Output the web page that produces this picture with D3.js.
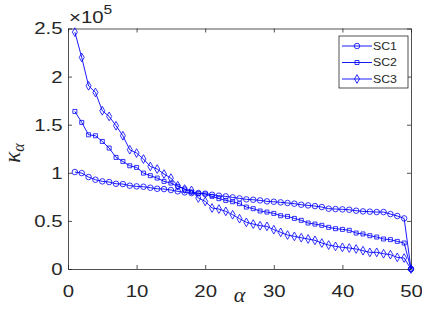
<!DOCTYPE html>
<html>
<head>
<meta charset="utf-8">
<script src="https://cdn.jsdelivr.net/npm/d3@7"></script>
<style>
  html, body { margin: 0; padding: 0; background: #fff; }
  svg text { font-family: "Liberation Sans", Arial, sans-serif; fill: #262626; }
</style>
</head>
<body>
<div id="chart"></div>
<script>
// values in units of 1e5, alpha = 1..50
const alphas = d3.range(1, 51)
const sc1 = [1.008, 0.997, 0.956, 0.928, 0.911, 0.904, 0.886, 0.883, 0.866, 0.859,
  0.855, 0.845, 0.834, 0.831, 0.821, 0.807, 0.796, 0.789, 0.789, 0.783,
  0.772, 0.762, 0.755, 0.744, 0.734, 0.724, 0.720, 0.713, 0.703, 0.699,
  0.693, 0.686, 0.679, 0.668, 0.661, 0.654, 0.644, 0.627, 0.623, 0.620,
  0.616, 0.606, 0.599, 0.596, 0.592, 0.592, 0.571, 0.551, 0.526, 0]
const sc2 = [1.638, 1.524, 1.395, 1.385, 1.326, 1.257, 1.160, 1.118, 1.073, 1.056,
  0.997, 0.970, 0.945, 0.911, 0.893, 0.859, 0.831, 0.800, 0.786, 0.779,
  0.755, 0.731, 0.713, 0.699, 0.679, 0.644, 0.627, 0.603, 0.592, 0.578,
  0.554, 0.547, 0.526, 0.506, 0.478, 0.467, 0.454, 0.433, 0.419, 0.412,
  0.402, 0.374, 0.364, 0.346, 0.332, 0.312, 0.305, 0.287, 0.270, 0]
const sc3 = [2.462, 2.199, 1.904, 1.835, 1.645, 1.586, 1.489, 1.385, 1.240, 1.205,
  1.143, 1.066, 1.039, 0.987, 0.945, 0.866, 0.831, 0.817, 0.738, 0.703,
  0.634, 0.623, 0.599, 0.564, 0.523, 0.485, 0.467, 0.450, 0.443, 0.409,
  0.381, 0.353, 0.339, 0.325, 0.312, 0.298, 0.270, 0.249, 0.235, 0.225,
  0.218, 0.208, 0.190, 0.173, 0.173, 0.159, 0.149, 0.121, 0.114, 0]
const seriesNames = ['SC1', 'SC2', 'SC3']
const seriesValues = [sc1, sc2, sc3]
const xTicks = [0, 10, 20, 30, 40, 50]
const yTicks = [0, 0.5, 1, 1.5, 2, 2.5]

const width = 422
const height = 312
const margin = { top: 28.5, right: 11, bottom: 43, left: 68 }
const innerW = width - margin.left - margin.right
const innerH = height - margin.top - margin.bottom
const blue = '#0000ff'
const axisColor = '#262626'
const stretch = 1.2 // the reference text is a little wider than plain Arial

const svg = d3.select('#chart').append('svg')
  .attr('width', width)
  .attr('height', height)

const g = svg.append('g')
  .attr('transform', `translate(${margin.left},${margin.top})`)

const x = d3.scaleLinear([0, 50], [0, innerW])
const y = d3.scaleLinear([0, 2.5], [innerH, 0])

// axes with inward ticks, box on all four sides
const fmt = d => String(d)
const bottom = g.append('g').attr('transform', `translate(0,${innerH})`)
  .call(d3.axisBottom(x).tickValues(xTicks).tickSizeInner(-4).tickSizeOuter(0).tickFormat(fmt))
const left = g.append('g')
  .call(d3.axisLeft(y).tickValues(yTicks).tickSizeInner(-4).tickSizeOuter(0).tickFormat(fmt))
g.append('g')
  .call(d3.axisTop(x).tickValues(xTicks).tickSizeInner(-4).tickSizeOuter(0).tickFormat(''))
g.append('g').attr('transform', `translate(${innerW},0)`)
  .call(d3.axisRight(y).tickValues(yTicks).tickSizeInner(-4).tickSizeOuter(0).tickFormat(''))

g.selectAll('.domain, .tick line').attr('stroke', axisColor).attr('stroke-width', 0.8)
bottom.selectAll('text')
  .style('font-size', '17px')
  .attr('y', 28)
  .attr('dy', 0)
  .attr('transform', `scale(${stretch},1)`)
left.selectAll('text')
  .style('font-size', '17px')
  .attr('x', -5.5 / stretch)
  .attr('transform', `scale(${stretch},1)`)

// exponent label
const expo = svg.append('text')
  .attr('transform', `translate(${margin.left + 1},23) scale(${stretch},1)`)
  .style('font-size', '17px')
expo.append('tspan').text('\u00d710')
expo.append('tspan').attr('dy', -9).style('font-size', '13px').text('5')

// axis titles
svg.append('text')
  .attr('x', margin.left + innerW / 2)
  .attr('y', 302)
  .attr('text-anchor', 'middle')
  .style('font-family', '"Liberation Serif", "DejaVu Serif", serif')
  .style('font-style', 'italic')
  .style('font-size', '22px')
  .text('\u03b1')

const ylab = svg.append('text')
  .attr('transform', `translate(20,153) rotate(-90)`)
  .attr('text-anchor', 'middle')
  .style('font-family', '"Liberation Serif", "DejaVu Serif", serif')
  .style('font-style', 'italic')
  .style('font-size', '23px')
ylab.append('tspan').text('\u03ba')
ylab.append('tspan').attr('dy', 4).style('font-size', '16px').text('\u03b1')

// markers
const markerShapes = [
  d3.symbol().type(d3.symbolCircle).size(24),
  d3.symbol().type(d3.symbolSquare).size(16),
  d3.symbol().type(d3.symbolDiamond).size(22)
]

const line = d3.line()
  .x((d, i) => x(alphas[i]))
  .y(d => y(d))

const plot = g.append('g')
seriesValues.forEach((vals, s) => {
  plot.append('path')
    .datum(vals)
    .attr('fill', 'none')
    .attr('stroke', blue)
    .attr('stroke-width', 0.9)
    .attr('d', line)
  plot.append('g').selectAll('path')
    .data(vals)
    .join('path')
    .attr('transform', (d, i) => `translate(${x(alphas[i])},${y(d)})`)
    .attr('d', markerShapes[s]())
    .attr('fill', 'none')
    .attr('stroke', blue)
    .attr('stroke-width', 0.8)
})

// legend
const legend = svg.append('g').attr('transform', 'translate(339,36)')
legend.append('rect')
  .attr('width', 69)
  .attr('height', 52)
  .attr('fill', '#fff')
  .attr('stroke', axisColor)
  .attr('stroke-width', 0.8)
seriesNames.forEach((name, s) => {
  const row = legend.append('g').attr('transform', `translate(0,${10 + s * 16.5})`)
  row.append('line')
    .attr('x1', 3).attr('x2', 33)
    .attr('stroke', blue).attr('stroke-width', 0.9)
  row.append('path')
    .attr('transform', 'translate(18,0)')
    .attr('d', markerShapes[s]())
    .attr('fill', 'none')
    .attr('stroke', blue)
    .attr('stroke-width', 0.8)
  row.append('text')
    .attr('transform', 'translate(34,0) scale(1.12,1)')
    .attr('dy', '0.35em')
    .style('font-size', '11px')
    .text(name)
})
</script>
</body>
</html>
